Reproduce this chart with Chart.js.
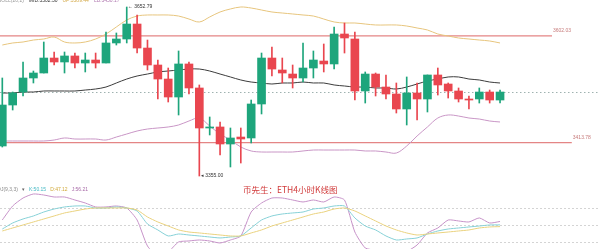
<!DOCTYPE html>
<html><head><meta charset="utf-8">
<script src="https://cdn.jsdelivr.net/npm/chart.js@4.4.1/dist/chart.umd.min.js"></script>
<style>html,body{margin:0;padding:0;background:#fff;}#wrap{width:600px;height:249px;position:relative;}</style>
</head><body><div id="wrap"><canvas id="c" width="600" height="249"></canvas></div>
<script>
// ---- data (ETH 4h candles) ----
const openP  = [3407.9,3480.1,3503.0,3527.7,3536.5,3562.9,3555.9,3566.5,3554.1,3559.4,3554.1,3589.4,3596.4,3622.8,3580.5,3550.6,3525.9,3494.2,3552.4,3510.1,3439.6,3441.4,3411.4,3423.7,3422.0,3481.9,3562.9,3541.8,3534.7,3527.7,3545.3,3557.6,3552.4,3605.2,3596.4,3504.8,3534.7,3511.8,3499.5,3473.1,3501.3,3490.7,3533.0,3517.1,3504.8,3490.7,3490.7,3503.0,3488.9];
const closeP = [3480.1,3501.3,3527.7,3536.5,3562.9,3555.9,3566.5,3554.1,3559.4,3554.1,3589.4,3596.4,3622.8,3580.5,3550.6,3525.9,3494.2,3552.4,3510.1,3439.6,3441.4,3411.4,3422.0,3420.2,3481.9,3562.9,3543.5,3536.5,3527.7,3545.3,3559.4,3552.4,3605.2,3598.2,3504.8,3534.7,3511.8,3499.5,3473.1,3501.3,3490.7,3533.0,3515.4,3504.8,3490.7,3488.9,3503.0,3488.9,3503.0];
const highP  = [3527.7,3503.0,3555.9,3540.0,3591.1,3573.5,3573.5,3571.7,3571.7,3571.7,3608.7,3607.0,3652.79,3638.7,3594.6,3559.4,3545.3,3575.3,3555.9,3515.4,3459.0,3450.2,3439.6,3439.6,3488.9,3571.7,3582.3,3562.9,3550.6,3589.4,3575.3,3587.6,3617.6,3624.6,3608.7,3538.3,3536.5,3533.0,3518.9,3529.5,3518.9,3533.0,3545.3,3518.9,3510.1,3496.0,3510.1,3506.5,3506.5];
const lowP   = [3406.1,3471.3,3496.0,3518.9,3536.5,3550.6,3536.5,3545.3,3538.3,3545.3,3554.1,3585.8,3589.4,3571.7,3541.8,3490.7,3485.4,3462.5,3499.5,3355.0,3427.3,3392.0,3370.9,3377.9,3413.2,3464.3,3531.2,3518.9,3510.1,3520.6,3527.7,3538.3,3543.5,3571.7,3488.9,3483.6,3496.0,3490.7,3466.0,3444.9,3453.7,3467.8,3497.7,3492.4,3485.4,3473.1,3483.6,3483.6,3483.6];

const bollUp  = [3585.8,3589.4,3591.1,3594.6,3596.4,3599.9,3591.1,3589.4,3591.1,3596.4,3605.2,3617.6,3629.9,3636.9,3638.7,3638.7,3638.7,3636.9,3631.6,3626.4,3635.2,3644.0,3649.3,3652.8,3651.0,3647.5,3644.0,3642.2,3640.5,3638.7,3636.9,3631.6,3626.4,3624.6,3624.6,3622.8,3621.1,3621.1,3621.1,3619.3,3615.8,3612.3,3605.2,3601.7,3598.2,3596.4,3594.6,3592.9,3589.4];
const bollMid = [3501.3,3501.3,3503.0,3503.0,3504.8,3504.8,3504.8,3504.8,3506.5,3508.3,3511.8,3518.9,3525.9,3531.2,3534.7,3538.3,3540.0,3541.8,3543.5,3543.5,3540.0,3534.7,3529.5,3524.2,3520.6,3518.9,3517.1,3518.9,3518.9,3520.6,3518.9,3518.9,3515.4,3513.6,3511.8,3511.8,3510.1,3510.1,3508.3,3511.8,3517.1,3522.4,3525.9,3529.5,3529.5,3525.9,3524.2,3520.6,3518.9];
const bollLow = [3416.7,3416.7,3416.7,3416.7,3416.7,3418.4,3422.0,3420.2,3420.2,3420.2,3418.4,3423.7,3429.0,3434.3,3437.8,3439.6,3441.4,3444.9,3451.9,3457.2,3443.1,3429.0,3418.4,3406.1,3399.1,3397.3,3397.3,3397.3,3397.3,3399.1,3400.8,3400.8,3400.8,3400.8,3400.8,3399.1,3399.1,3397.3,3395.5,3407.9,3425.5,3441.4,3457.2,3462.5,3460.7,3457.2,3455.4,3451.9,3450.2];

const kLine = [42.9,53.5,60.6,65.9,72.9,78.2,81.8,83.5,83.5,80,80,81.8,80,74.7,51.8,41.2,30.6,34.1,32.3,30.6,28.8,27.1,28.8,30.6,44.7,58.8,65.9,69.4,71.2,72.9,78.2,80,83.5,83.5,62.4,48.2,41.2,30.6,23.5,25.3,27.1,34.1,39.4,42.9,44.7,46.5,48.2,50.0,50.15];
const dLine = [39.4,44.7,50.0,55.3,60.6,65.9,71.2,74.7,78.2,80,80,80,80,76.5,64.1,55.3,48.2,41.2,37.6,35.9,34.1,32.3,30.6,30.6,35.9,41.2,48.2,53.5,58.8,64.1,69.4,72.9,78.2,80,74.7,65.9,57.1,48.2,41.2,35.9,32.3,34.1,35.9,37.6,39.4,41.2,44.7,46.5,47.12];
const jLine = [58.8,83.5,97.6,104.7,102.9,99.4,99.4,94.1,88.8,81.8,81.8,83.5,80,58.8,12.9,-4.7,2.3,20.0,21.8,23.5,21.8,18.2,23.5,30.6,72.9,88.8,97.6,97.6,94.1,90.6,94.1,90.6,99.4,94.1,37.6,9.4,5,-5,-3,3,14.7,35.9,44.7,58.8,57.1,55.3,62.4,53.5,56.21];

const levels = [3602.03, 3413.78];
const levelLabels = ['3602.03', '3413.78'];
const kdjGuides = [80, 50, 20];
const titleText = '币先生：ETH4小时K线图';
const bollLegend = ['BOLL(20,2)', 'MID:3502.30', 'UP:3589.44', 'LB:3450.17'];
const kdjLegend = ['KDJ(9,3,3)', '▾', 'K:50.15', 'D:47.12', 'J:56.21'];

// ---- styles ----
const UPC = '#1ea57c', DNC = '#e9464f';
const idx = openP.map((_, i) => i);
const colors = idx.map(i => closeP[i] >= openP[i] ? UPC : DNC);
const pts = arr => arr.map((v, i) => ({x: i, y: v}));

const overlay = {
  id: 'overlay',
  beforeDatasetsDraw(chart) {
    const {ctx, chartArea: a, scales} = chart;
    const y = scales.y, k = scales.k;
    ctx.save();
    // KDJ guide lines
    ctx.strokeStyle = '#d4d4d4'; ctx.lineWidth = 1; ctx.setLineDash([2, 2]);
    kdjGuides.forEach(v => {
      const py = Math.round(k.getPixelForValue(v)) + 0.5;
      ctx.beginPath(); ctx.moveTo(a.left, py); ctx.lineTo(a.right, py); ctx.stroke();
    });
    // last close dotted line
    ctx.strokeStyle = '#9fb2b0'; ctx.setLineDash([1.5, 2.5]);
    const pc = Math.round(y.getPixelForValue(closeP[closeP.length - 1])) + 0.5;
    ctx.beginPath(); ctx.moveTo(a.left, pc); ctx.lineTo(a.right, pc); ctx.stroke();
    // level lines
    ctx.setLineDash([]);
    ctx.strokeStyle = '#e48585'; ctx.lineWidth = 1.3;
    const spans = [0.92, 0.953];
    levels.forEach((v, i) => {
      const py = y.getPixelForValue(v);
      ctx.beginPath(); ctx.moveTo(a.left, py); ctx.lineTo(a.left + a.width * spans[i], py); ctx.stroke();
      ctx.font = '5px "Liberation Sans", Arial';
      ctx.fillStyle = '#c77b7b'; ctx.textBaseline = 'middle';
      ctx.fillText(levelLabels[i], a.left + a.width * spans[i] + 1, py - 5);
    });
    ctx.restore();
  },
  afterDatasetsDraw(chart) {
    const {ctx, scales} = chart;
    const x = scales.x, y = scales.y;
    ctx.save();
    ctx.textBaseline = 'middle';
    ctx.font = '5px "Liberation Sans", Arial';
    ctx.fillStyle = '#333';
    // high / low markers
    let hi = 0, lo = 0;
    highP.forEach((v, i) => { if (v > highP[hi]) hi = i; });
    lowP.forEach((v, i) => { if (v < lowP[lo]) lo = i; });
    ctx.fillText('← ' + highP[hi].toFixed(2), x.getPixelForValue(hi) + 1, y.getPixelForValue(highP[hi]));
    ctx.fillText('◂ ' + lowP[lo].toFixed(2), x.getPixelForValue(lo) + 1.5, y.getPixelForValue(lowP[lo]));
    // top BOLL legend (clipped at top)
    const bc = ['#9a9a9a', '#333333', '#d4aa4a', '#b078b0'];
    let bx = -2;
    bollLegend.forEach((t, i) => { ctx.fillStyle = bc[i]; ctx.fillText(t, bx, 0.5); bx += ctx.measureText(t).width + 5; });
    // KDJ legend
    const kc = ['#8a8a8a', '#666', '#45b9c4', '#d1a93a', '#a86aa8'];
    let kx = -6;
    kdjLegend.forEach((t, i) => { ctx.fillStyle = kc[i]; ctx.fillText(t, kx, 190); kx += ctx.measureText(t).width + 4; });
    // title
    ctx.font = '8.5px "Noto Sans CJK SC"';
    ctx.fillStyle = '#d13a3a';
    ctx.fillText(titleText, 243, 190);
    ctx.restore();
  }
};

new Chart(document.getElementById('c'), {
  type: 'bar',
  data: {
    datasets: [
      {type: 'line', data: pts(bollUp), borderColor: '#e7c57d', borderWidth: 1, pointRadius: 0, tension: 0.35, yAxisID: 'y', order: 5},
      {type: 'line', data: pts(bollMid), borderColor: '#3c3c3c', borderWidth: 1, pointRadius: 0, tension: 0.35, yAxisID: 'y', order: 5},
      {type: 'line', data: pts(bollLow), borderColor: '#c996c6', borderWidth: 1, pointRadius: 0, tension: 0.35, yAxisID: 'y', order: 5},
      {type: 'line', data: pts(dLine), borderColor: '#ead27e', borderWidth: 1, pointRadius: 0, tension: 0.2, yAxisID: 'k', order: 5},
      {type: 'line', data: pts(kLine), borderColor: '#86d1d7', borderWidth: 1, pointRadius: 0, tension: 0.2, yAxisID: 'k', order: 5},
      {type: 'line', data: pts(jLine), borderColor: '#c793c9', borderWidth: 1, pointRadius: 0, tension: 0.2, yAxisID: 'k', order: 5},
      {data: idx.map(i => ({x: i, y: [lowP[i], highP[i]]})), backgroundColor: colors, barThickness: 1, grouped: false, yAxisID: 'y', order: 2},
      {data: idx.map(i => ({x: i, y: [openP[i], closeP[i]]})), backgroundColor: colors, barThickness: 8, minBarLength: 1, grouped: false, yAxisID: 'y', order: 1}
    ]
  },
  options: {
    responsive: false,
    animation: false,
    layout: {padding: 0},
    plugins: {legend: {display: false}, tooltip: {enabled: false}},
    scales: {
      x: {type: 'linear', min: -0.222, max: 57.64, display: false, offset: false},
      y: {min: 3226.4, max: 3665.12, display: false},
      k: {min: 7.6, max: 447.1, display: false}
    }
  },
  plugins: [overlay]
});
</script>
</body></html>
